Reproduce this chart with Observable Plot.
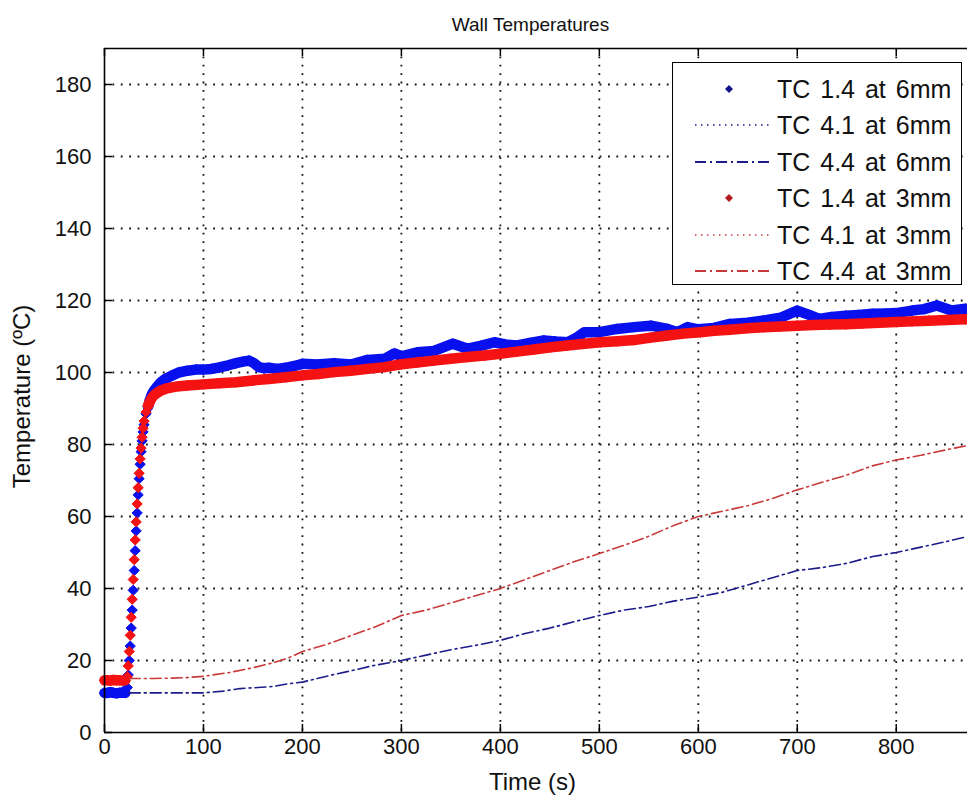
<!DOCTYPE html>
<html>
<head>
<meta charset="utf-8">
<script src="https://cdn.jsdelivr.net/npm/d3@7"></script>
<script src="https://cdn.jsdelivr.net/npm/@observablehq/plot@0.6"></script>
<style>
  html, body { margin: 0; padding: 0; background: #fff; }
  #wrap { position: relative; width: 967px; height: 807px; overflow: hidden; background: #fff; }
  #legend { position: absolute; left: 672px; top: 62px; width: 288px; height: 221px;
            border: 1.5px solid #000; background: #fff; box-sizing: content-box;
            font-family: "Liberation Sans", Arial, Helvetica, sans-serif; font-size: 25px; color: #111; }
  .row { position: absolute; left: 0; width: 288px; height: 36px; }
  .row svg { position: absolute; left: 20px; top: 0; }
  .row span { position: absolute; left: 104px; top: 50%; transform: translateY(-50%); white-space: nowrap; word-spacing: 3px; }
</style>
</head>
<body>
<div id="wrap"><div id="legend"></div></div>
<script>
// ---------------- data ----------------
const xTicks = [0, 100, 200, 300, 400, 500, 600, 700, 800];
const yTicks = [0, 20, 40, 60, 80, 100, 120, 140, 160, 180];

// TC 1.4 at 6mm (blue diamonds)
const tc14_6mm_t = [0,3,6,9,12,15,18,21,23,24,25,26,27,28,29,30,31,32,33,34,35,36,37,38,39,40,42,44,46,48,50,53,57,62,67,75,84,92,100,108,116,125,133,140,146,151,156,161,166,175,183,192,200,215,232,249,266,283,293,300,316,333,352,367,380,394,405,417,430,444,456,468,476,485,500,518,535,552,569,579,589,600,616,632,650,665,683,700,712,722,735,749,762,776,790,800,816,828,841,856,870];
const tc14_6mm_v = [11,11,11.2,11,10.9,11,11.1,11,12.5,16,20,24,29,34,39.5,45,50.5,56,61,66,70.5,74.5,78,81,83.5,85.5,88.5,90.5,92.5,94,95,96,97.3,98.3,99,100,100.5,100.8,100.8,101,101.4,102,102.6,103,103.3,102.6,101.5,101.2,101.3,101,101.3,101.8,102.4,102.2,102.6,102.2,103.5,103.8,105.3,104.5,105.6,106,108,106.6,107.4,108.4,107.8,107.5,108.2,108.9,108.6,108.4,109.5,111.2,111.2,112.1,112.6,113,112.1,111.2,112.6,112,112.4,113.5,113.8,114.4,115.2,117.2,116,114.9,115.4,115.8,116,116.3,116.4,116.5,117.2,117.6,118.6,117.2,117.7];

// TC 1.4 at 3mm (red diamonds)
const tc14_3mm_t = [0,3,6,9,12,15,18,21,23,24,25,26,27,28,29,30,31,32,33,34,35,36,37,38,39,40,42,44,46,48,50,53,57,62,67,75,84,100,116,133,150,166,183,200,216,232,249,266,283,300,316,333,350,367,384,400,417,434,451,468,485,501,518,535,552,569,585,602,616,632,649,666,683,700,716,733,749,766,783,800,816,833,850,870];
const tc14_3mm_v = [14.5,14.5,14.4,14.6,14.5,14.5,14.4,14.5,15.5,18.5,22.5,27,32,37,42.5,48,53.5,58.5,63.5,68,72,76,79,82,84.5,86.5,89,90.8,92,93,93.7,94.3,95,95.5,95.8,96.2,96.4,96.7,97,97.3,97.8,98.2,98.7,99.2,99.6,100.1,100.5,101,101.5,102.3,102.8,103.3,103.8,104.3,104.7,105.2,105.8,106.4,107,107.5,108,108.4,108.7,109,109.7,110.3,110.8,111.2,111.6,111.9,112.3,112.6,112.8,113,113.2,113.3,113.4,113.6,113.8,114,114.2,114.4,114.6,114.8];

// TC 4.1 at 6mm / 3mm (dotted) — no visible data in the plot area
const tc41_6mm_t = [];
const tc41_6mm_v = [];
const tc41_3mm_t = [];
const tc41_3mm_v = [];

// TC 4.4 at 6mm (blue dash-dot)
const tc44_6mm_t = [25,50,75,100,120,137,155,171,185,200,215,230,255,270,300,325,350,375,400,425,450,475,500,525,550,575,600,625,650,675,700,725,750,775,800,825,850,870];
const tc44_6mm_v = [11,11,11,11,11.5,12.2,12.5,12.8,13.5,14,15,16,17.5,18.5,20,21.5,23,24.2,25.6,27.5,29,30.8,32.5,34,35,36.5,37.6,39,41,43,45,45.8,47,48.8,50,51.5,53,54.3];

// TC 4.4 at 3mm (red dash-dot)
const tc44_3mm_t = [25,50,80,100,127,150,168,185,200,225,250,275,300,325,350,375,400,425,450,475,500,525,550,575,600,625,650,675,700,725,750,775,800,825,850,870];
const tc44_3mm_v = [15,15,15.2,15.6,16.7,18,19.2,20.6,22.5,24.5,27,29.5,32.5,34,36,38,40,42.5,45,47.5,49.7,52,54.5,57.5,60,61.5,63,65,67.4,69.5,71.5,74,75.7,77,78.5,79.6];

const legendLabels = ["TC 1.4 at 6mm","TC 4.1 at 6mm","TC 4.4 at 6mm","TC 1.4 at 3mm","TC 4.1 at 3mm","TC 4.4 at 3mm"];
const titleText = "Wall Temperatures";
const xLabel = "Time (s)";
const yLabel = "Temperature (ºC)";

// ---------------- build ----------------
const zip = (t, v) => t.map((d, i) => ({t: d, v: v[i]}));
const s14_6 = zip(tc14_6mm_t, tc14_6mm_v);
const s14_3 = zip(tc14_3mm_t, tc14_3mm_v);
const s41_6 = zip(tc41_6mm_t, tc41_6mm_v);
const s41_3 = zip(tc41_3mm_t, tc41_3mm_v);
const s44_6 = zip(tc44_6mm_t, tc44_6mm_v);
const s44_3 = zip(tc44_3mm_t, tc44_3mm_v);

const W = 967, H = 807, mL = 104, mT = 48, mB = 75, mR = 0;
const pW = W - mL - mR, pH = H - mT - mB;

const BLUE = "#0810ee", RED = "#f41212";
const BLUE_LN = "#1c1c8a", RED_LN = "#c83a3a";
const BLUE_MK = "#14148a", RED_MK = "#b01c22";
const font = '"Liberation Sans", Arial, Helvetica, sans-serif';
const dashDot = "11,4,2,4";
const gridDash = "1.8,6.6";

// band: hide the thick band during the steep rise (there only diamonds are seen)
const bandY = d => (d.t > 21 && d.t < 44) ? NaN : d.v;

const chart = Plot.plot({
  width: W, height: H,
  marginLeft: mL, marginTop: mT, marginBottom: mB, marginRight: mR,
  x: {domain: [0, 872], axis: null},
  y: {domain: [0, 190], axis: null},
  style: {fontFamily: font, fontSize: "22px", background: "#fff", color: "#111", overflow: "visible"},
  marks: [
    // dotted grid
    Plot.ruleX(xTicks.filter(d => d > 0), {x: d => d, stroke: "#111", strokeWidth: 1.8, strokeDasharray: gridDash}),
    Plot.ruleY(yTicks.filter(d => d > 0), {y: d => d, stroke: "#111", strokeWidth: 1.8, strokeDasharray: gridDash}),
    // TC 1.4 at 6mm
    Plot.line(s14_6, {x: "t", y: bandY, stroke: BLUE, strokeWidth: 10.5, curve: "linear"}),
    Plot.dot(s14_6, {x: "t", y: "v", symbol: "diamond2", r: 4.6, fill: BLUE, stroke: BLUE, strokeWidth: 1}),
    // TC 4.1 at 6mm
    Plot.line(s41_6, {x: "t", y: "v", stroke: BLUE_LN, strokeWidth: 1, strokeDasharray: "1,3"}),
    // TC 4.4 at 6mm
    Plot.line(s44_6, {x: "t", y: "v", stroke: BLUE_LN, strokeWidth: 1.6, strokeDasharray: dashDot}),
    // TC 1.4 at 3mm
    Plot.line(s14_3, {x: "t", y: bandY, stroke: RED, strokeWidth: 10.5, curve: "linear"}),
    Plot.dot(s14_3, {x: "t", y: "v", symbol: "diamond2", r: 4.6, fill: RED, stroke: RED, strokeWidth: 1}),
    // TC 4.1 at 3mm
    Plot.line(s41_3, {x: "t", y: "v", stroke: RED_LN, strokeWidth: 1, strokeDasharray: "1,3"}),
    // TC 4.4 at 3mm
    Plot.line(s44_3, {x: "t", y: "v", stroke: RED_LN, strokeWidth: 1.6, strokeDasharray: dashDot}),
    // axes box (left, bottom, top)
    Plot.ruleX([0], {stroke: "#000", strokeWidth: 1.6}),
    Plot.ruleY([0], {stroke: "#000", strokeWidth: 1.6}),
    Plot.ruleY([190], {stroke: "#000", strokeWidth: 1.6}),
    // inward ticks
    Plot.tickX(xTicks, {x: d => d, stroke: "#000", strokeWidth: 1.5, insetTop: pH - 8}),
    Plot.tickX(xTicks, {x: d => d, stroke: "#000", strokeWidth: 1.5, insetBottom: pH - 8}),
    Plot.tickY(yTicks, {y: d => d, stroke: "#000", strokeWidth: 1.5, insetRight: pW - 8}),
    // tick labels
    Plot.text(xTicks, {x: d => d, frameAnchor: "bottom", dy: 21, text: d => String(d), fill: "#111", textAnchor: "middle"}),
    Plot.text(yTicks, {y: d => d, frameAnchor: "left", dx: -13, textAnchor: "end", text: d => String(d), fill: "#111"}),
    // axis labels and title
    Plot.text([xLabel], {frameAnchor: "bottom-left", dx: 428, dy: 57, textAnchor: "middle", text: d => d, fontSize: 24, fill: "#111"}),
    Plot.text([yLabel], {frameAnchor: "left", dx: -82, dy: 6, rotate: -90, textAnchor: "middle", text: d => d, fontSize: 24, fill: "#111"}),
    Plot.text([titleText], {frameAnchor: "top-left", dx: 426, dy: -31, textAnchor: "middle", text: d => d, fontSize: 19, fill: "#111"})
  ]
});
const wrap = document.getElementById("wrap");
wrap.insertBefore(chart, wrap.firstChild);

// ---------------- legend ----------------
const legendStyles = [
  {type: "marker", color: BLUE_MK},
  {type: "dot", color: BLUE_LN},
  {type: "dashdot", color: BLUE_LN},
  {type: "marker", color: RED_MK},
  {type: "dot", color: RED_LN},
  {type: "dashdot", color: RED_LN}
];
const legend = document.getElementById("legend");
legendLabels.forEach((lab, i) => {
  const row = document.createElement("div");
  row.className = "row";
  row.style.top = (8 + i * 36.4) + "px";
  const st = legendStyles[i];
  let sym = "";
  if (st.type === "marker") {
    sym = `<path d="M36,14 L40,18 L36,22 L32,18 Z" fill="${st.color}"/>`;
  } else if (st.type === "dot") {
    sym = `<line x1="2" y1="18" x2="78" y2="18" stroke="${st.color}" stroke-width="1.5" stroke-dasharray="1.5,4.5"/>`;
  } else {
    sym = `<line x1="2" y1="18" x2="78" y2="18" stroke="${st.color}" stroke-width="1.8" stroke-dasharray="${dashDot}"/>`;
  }
  row.innerHTML = `<svg width="82" height="36">${sym}</svg><span>${lab}</span>`;
  legend.appendChild(row);
});
</script>
</body>
</html>
